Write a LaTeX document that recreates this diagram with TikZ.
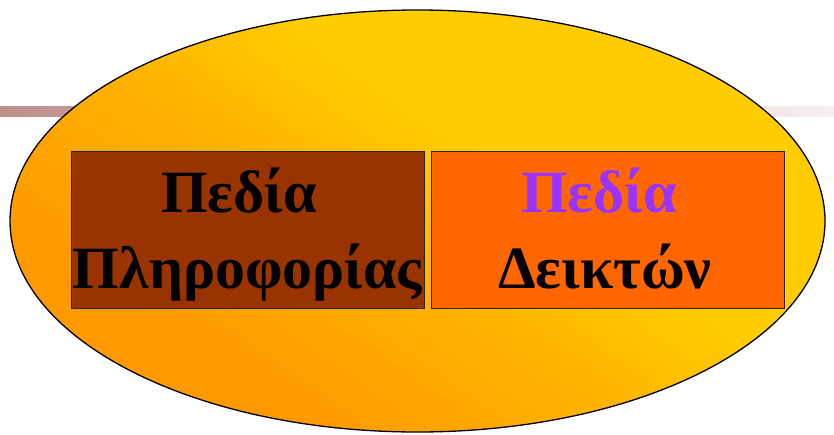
\documentclass[tikz,border=0pt]{standalone}
\usepackage{fontspec}
\setmainfont{Liberation Serif}
\definecolor{barL}{HTML}{BF8F8A}
\definecolor{barR}{HTML}{F5F0F0}
\definecolor{ellO}{HTML}{FF9900}
\definecolor{ellM}{HTML}{FFB300}
\definecolor{ellY}{HTML}{FFCC00}
\definecolor{boxL}{HTML}{993300}
\definecolor{boxR}{HTML}{FF6600}
\definecolor{txtP}{HTML}{9933FF}
\pgfdeclareverticalshading{ellshade}{100bp}{color(0bp)=(ellO); color(30bp)=(ellO); color(46bp)=(ellM); color(58bp)=(ellY); color(100bp)=(ellY)}
\tikzset{
  fieldbox/.style={draw=black!85, line width=0.8pt, minimum width=353pt, minimum height=157pt, inner sep=0pt},
  fieldtxt/.style={font=\fontsize{60}{60}\selectfont\bfseries, anchor=base, inner sep=0pt}
}
\begin{document}
\begin{tikzpicture}[x=1pt,y=-1pt]
\useasboundingbox (0,0) rectangle (834,434);
\shade[left color=barL, right color=barR] (0,106) rectangle (834,116);
\path[draw=black, line width=1.3pt, shading=ellshade, shading angle=-35] (417.5,221) ellipse [x radius=407.5pt, y radius=211pt];
\node[fieldbox, fill=boxL] (left) at (247.5,230) {};
\node[fieldbox, fill=boxR] (right) at (607.5,230) {};
\node[fieldtxt] (l1) at (239,212) {Πεδία};
\node[fieldtxt] (l2) at (247.5,288) {Πληροφορίας};
\node[fieldtxt, text=txtP] (r1) at (599,212) {Πεδία};
\node[fieldtxt] (r2) at (605,288) {Δεικτών};
\end{tikzpicture}
\end{document}
